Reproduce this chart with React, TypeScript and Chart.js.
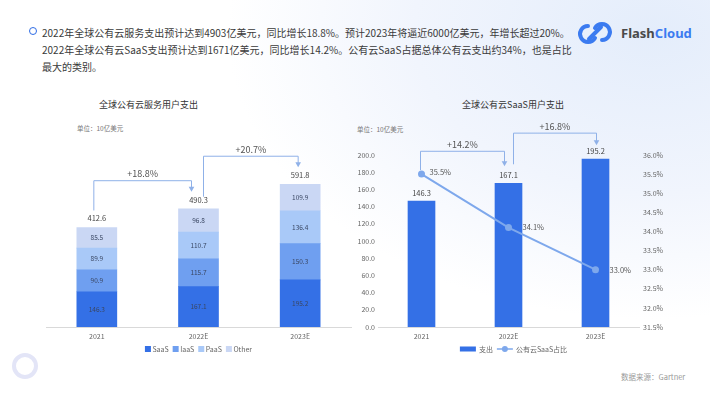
import React, { useEffect, useRef } from "react";
import { Chart, registerables } from "chart.js";
Chart.register(...registerables);

const FONT = '"Noto Sans CJK SC", "Noto Sans", sans-serif';

// ---- data ----
const years = ["2021", "2022E", "2023E"];
const saas = [146.3, 167.1, 195.2];
const iaas = [90.9, 115.7, 150.3];
const paas = [89.9, 110.7, 136.4];
const other = [85.5, 96.8, 109.9];
const totals = [412.6, 490.3, 591.8];
const totalGrowth = ["+18.8%", "+20.7%"];
const stackNames = ["SaaS", "IaaS", "PaaS", "Other"];

const saasSpend = [146.3, 167.1, 195.2];
const saasShare = [35.5, 34.1, 33.0];
const saasGrowth = ["+14.2%", "+16.8%"];
const spendTicks = [0, 20, 40, 60, 80, 100, 120, 140, 160, 180, 200];
const shareTicks = [31.5, 32, 32.5, 33, 33.5, 34, 34.5, 35, 35.5, 36];

// ---- style ----
const C = {
  saas: "#3470e6",
  iaas: "#6f9ff0",
  paas: "#a9c9f8",
  other: "#cad7f4",
  line: "#7ea8ec",
  bracket: "#8fb1e8",
  axis: "#d9d9d9",
  tick: "#666666",
};

function drawBracket(ctx: CanvasRenderingContext2D, x0: number, yStart: number, x1: number, yTip: number, yH: number, text: string) {
  ctx.save();
  ctx.strokeStyle = C.bracket;
  ctx.fillStyle = C.bracket;
  ctx.lineWidth = 1;
  ctx.beginPath();
  ctx.moveTo(x0, yStart);
  ctx.lineTo(x0, yH);
  ctx.lineTo(x1, yH);
  ctx.lineTo(x1, yTip - 4);
  ctx.stroke();
  ctx.beginPath();
  ctx.moveTo(x1 - 2.8, yTip - 5);
  ctx.lineTo(x1 + 2.8, yTip - 5);
  ctx.lineTo(x1, yTip);
  ctx.closePath();
  ctx.fill();
  ctx.font = `9px ${FONT}`;
  ctx.fillStyle = "#555";
  ctx.textAlign = "center";
  ctx.textBaseline = "middle";
  ctx.fillText(text, (x0 + x1) / 2, yH - 7);
  ctx.restore();
}

const leftPlugin = {
  id: "leftAnno",
  afterDraw(chart: any) {
    const ctx: CanvasRenderingContext2D = chart.ctx;
    const xS = chart.scales.x;
    const yS = chart.scales.y;
    ctx.save();
    ctx.textAlign = "center";
    ctx.textBaseline = "middle";
    ctx.font = `6.5px ${FONT}`;
    ctx.fillStyle = "#3a4763";
    chart.data.datasets.forEach((ds: any, di: number) => {
      const meta = chart.getDatasetMeta(di);
      meta.data.forEach((el: any, i: number) => {
        const p = el.getProps(["x", "y", "base"], true);
        ctx.fillText(Number(ds.data[i]).toFixed(1), p.x, (p.y + p.base) / 2);
      });
    });
    const cx = years.map((_, i) => xS.getPixelForValue(i));
    const labelY = totals.map((t) => yS.getPixelForValue(t) - 9);
    ctx.font = `7.5px ${FONT}`;
    ctx.fillStyle = "#444";
    totals.forEach((t, i) => ctx.fillText(t.toFixed(1), cx[i], labelY[i]));
    ctx.restore();

    // brackets
    {
      const x0 = cx[0] - 3, ys = labelY[0] - 8, x1 = cx[1] - 7, tip = labelY[1] - 8;
      drawBracket(ctx, x0, ys, x1, tip, Math.min(ys, tip) - 11, totalGrowth[0]);
    }
    {
      const x0 = cx[1] + 5, ys = labelY[1] - 3, x1 = cx[2] - 2, tip = labelY[2] - 8;
      drawBracket(ctx, x0, ys, x1, tip, Math.min(ys, tip) - 11, totalGrowth[1]);
    }

    // legend
    const colors = [C.saas, C.iaas, C.paas, C.other];
    ctx.save();
    ctx.font = `7px ${FONT}`;
    ctx.textBaseline = "middle";
    ctx.textAlign = "left";
    const box = 6, gapIn = 1.5, gapOut = 4;
    const widths = stackNames.map((n) => box + gapIn + ctx.measureText(n).width);
    const total = widths.reduce((a, b) => a + b, 0) + gapOut * (stackNames.length - 1);
    let x = (chart.chartArea.left + chart.chartArea.right) / 2 - total / 2;
    const y = 349;
    stackNames.forEach((n, i) => {
      ctx.fillStyle = colors[i];
      ctx.fillRect(x, y - box / 2, box, box);
      ctx.fillStyle = "#666";
      ctx.fillText(n, x + box + gapIn, y + 0.5);
      x += widths[i] + gapOut;
    });
    ctx.restore();
  },
};

const rightPlugin = {
  id: "rightAnno",
  afterDraw(chart: any) {
    const ctx: CanvasRenderingContext2D = chart.ctx;
    const xS = chart.scales.x;
    const yS = chart.scales.y;
    const cx = years.map((_, i) => xS.getPixelForValue(i));
    const barLabelY = saasSpend.map((v) => yS.getPixelForValue(v) - 8);
    const lineMeta = chart.getDatasetMeta(1);
    const pts = lineMeta.data.map((el: any) => el.getProps(["x", "y"], true));
    ctx.save();
    ctx.textAlign = "center";
    ctx.textBaseline = "middle";
    ctx.font = `7.5px ${FONT}`;
    ctx.fillStyle = "#444";
    saasSpend.forEach((v, i) => ctx.fillText(v.toFixed(1), cx[i], barLabelY[i]));
    ctx.textAlign = "left";
    ctx.fillStyle = "#555";
    saasShare.forEach((v, i) => {
      const off = i === 0 ? 8 : 14;
      ctx.fillText(v.toFixed(1) + "%", pts[i].x + off, pts[i].y - (i === 0 ? 2 : 0));
    });
    ctx.restore();

    {
      const x0 = pts[0].x - 1, ys = pts[0].y - 4, x1 = cx[1] - 4, tip = barLabelY[1] - 9;
      drawBracket(ctx, x0, ys, x1, tip, Math.min(ys, tip) - 15, saasGrowth[0]);
    }
    {
      const x0 = cx[1] + 5, ys = barLabelY[1] - 11, x1 = cx[2] + 1, tip = barLabelY[2] - 6;
      drawBracket(ctx, x0, ys, x1, tip, Math.min(ys, tip) - 12, saasGrowth[1]);
    }

    // legend
    ctx.save();
    ctx.font = `7px ${FONT}`;
    ctx.textBaseline = "middle";
    ctx.textAlign = "left";
    const names = chart.data.datasets.map((d: any) => d.label);
    const w0 = 16 + 3 + ctx.measureText(names[0]).width;
    const w1 = 16 + 3 + ctx.measureText(names[1]).width;
    const gap = 4;
    const tot = w0 + gap + w1;
    let x = (chart.chartArea.left + chart.chartArea.right) / 2 + 5 - tot / 2;
    const y = 349;
    ctx.fillStyle = C.saas;
    ctx.fillRect(x, y - 2.5, 16, 5);
    ctx.fillStyle = "#666";
    ctx.fillText(names[0], x + 19, y + 0.5);
    x += w0 + gap;
    ctx.strokeStyle = C.line;
    ctx.lineWidth = 1.5;
    ctx.beginPath();
    ctx.moveTo(x, y);
    ctx.lineTo(x + 16, y);
    ctx.stroke();
    ctx.fillStyle = C.line;
    ctx.beginPath();
    ctx.arc(x + 8, y, 3, 0, Math.PI * 2);
    ctx.fill();
    ctx.fillStyle = "#666";
    ctx.fillText(names[1], x + 19, y + 0.5);
    ctx.restore();
  },
};

export default function App() {
  const leftRef = useRef<HTMLCanvasElement>(null);
  const rightRef = useRef<HTMLCanvasElement>(null);

  useEffect(() => {
    document.body.style.margin = "0";
    const tickFont = { size: 7, family: FONT };
    const left = new Chart(leftRef.current!, {
      type: "bar",
      data: {
        labels: years,
        datasets: [
          { label: stackNames[0], data: saas, backgroundColor: C.saas, barThickness: 40 },
          { label: stackNames[1], data: iaas, backgroundColor: C.iaas, barThickness: 40 },
          { label: stackNames[2], data: paas, backgroundColor: C.paas, barThickness: 40 },
          { label: stackNames[3], data: other, backgroundColor: C.other, barThickness: 40 },
        ],
      },
      options: {
        responsive: false,
        animation: false,
        layout: { padding: { left: 46, right: 359, top: 134, bottom: 54 } },
        plugins: { legend: { display: false }, tooltip: { enabled: false } },
        scales: {
          x: {
            stacked: true,
            grid: { display: false, drawTicks: false },
            border: { color: C.axis },
            ticks: { font: tickFont, color: C.tick, padding: 5 },
            afterFit: (s: any) => { s.height = 18; },
          },
          y: { stacked: true, display: false, min: 0, max: 800 },
        },
      },
      plugins: [leftPlugin],
    } as any);

    const right = new Chart(rightRef.current!, {
      type: "bar",
      data: {
        labels: years,
        datasets: [
          { type: "bar", label: "支出", data: saasSpend, backgroundColor: C.saas, barThickness: 27, yAxisID: "y", order: 2 },
          {
            type: "line", label: "公有云SaaS占比", data: saasShare, borderColor: C.line, backgroundColor: C.line,
            borderWidth: 2, pointRadius: 3.5, pointBackgroundColor: C.line, pointBorderWidth: 0, yAxisID: "y1", order: 1,
          },
        ],
      },
      options: {
        responsive: false,
        animation: false,
        layout: { padding: { left: 348, right: 41, top: 155, bottom: 54 } },
        plugins: { legend: { display: false }, tooltip: { enabled: false } },
        scales: {
          x: {
            grid: { display: false, drawTicks: false },
            border: { color: C.axis },
            ticks: { font: tickFont, color: C.tick, padding: 5 },
            afterFit: (s: any) => { s.height = 18; },
          },
          y: {
            position: "left",
            min: spendTicks[0],
            max: spendTicks[spendTicks.length - 1],
            afterBuildTicks: (s: any) => { s.ticks = spendTicks.map((v) => ({ value: v })); },
            ticks: { font: tickFont, color: C.tick, padding: 3, callback: (v: any) => Number(v).toFixed(1) },
            grid: { display: false, drawTicks: false },
            border: { display: false },
            afterFit: (s: any) => { s.width = 30; },
          },
          y1: {
            position: "right",
            min: shareTicks[0],
            max: shareTicks[shareTicks.length - 1],
            afterBuildTicks: (s: any) => { s.ticks = shareTicks.map((v) => ({ value: v })); },
            ticks: { font: tickFont, color: C.tick, padding: 4, callback: (v: any) => Number(v).toFixed(1) + "%" },
            grid: { display: false, drawTicks: false },
            border: { display: false },
            afterFit: (s: any) => { s.width = 30; },
          },
        },
      },
      plugins: [rightPlugin],
    } as any);

    return () => {
      left.destroy();
      right.destroy();
    };
  }, []);

  const abs = (s: React.CSSProperties): React.CSSProperties => ({ position: "absolute", ...s });

  return (
    <div
      style={{
        position: "absolute", left: 0, top: 0, width: 710, height: 399, overflow: "hidden",
        fontFamily: FONT,
        background: "radial-gradient(ellipse 75% 90% at 92% 8%, #e4edfb 0%, #f1f5fd 45%, #ffffff 80%)",
      }}
    >
      <div style={abs({ left: 28.5, top: 26.5, width: 6, height: 6, borderRadius: "50%", border: "1.8px solid #2f6ce5" })} />
      <div style={abs({ left: 42, top: 24, width: 540, fontSize: 10, lineHeight: "17px", color: "#3a3a3a" })}>
        2022年全球公有云服务支出预计达到4903亿美元，同比增长18.8%。预计2023年将逼近6000亿美元，年增长超过20%。
        <br />
        2022年全球公有云SaaS支出预计达到1671亿美元，同比增长14.2%。公有云SaaS占据总体公有云支出约34%，也是占比
        <br />
        最大的类别。
      </div>

      <svg style={abs({ left: 575, top: 18, width: 40, height: 30 })} viewBox="0 0 40 30">
        <path d="M13 8 A8 8 0 1 0 20 20" fill="none" stroke="#3b7bf0" strokeWidth="4" strokeLinecap="round" />
        <path d="M14 21 L26 9" fill="none" stroke="#3b7bf0" strokeWidth="4" strokeLinecap="round" />
        <path d="M27 22 A8 8 0 1 0 20 10" fill="none" stroke="#3b7bf0" strokeWidth="4" strokeLinecap="round" />
      </svg>
      <div style={abs({ left: 621, top: 24, fontSize: 13, fontWeight: 700, lineHeight: "18px", fontFamily: '"Noto Sans", sans-serif' })}>
        <span style={{ color: "#4a4a4a" }}>Flash</span>
        <span style={{ color: "#3b7bf0" }}>Cloud</span>
      </div>

      <div style={abs({ left: 48, width: 201, top: 99, textAlign: "center", fontSize: 9, lineHeight: "12px", color: "#333" })}>
        全球公有云服务用户支出
      </div>
      <div style={abs({ left: 413, width: 200, top: 99, textAlign: "center", fontSize: 9, lineHeight: "12px", color: "#333" })}>
        全球公有云SaaS用户支出
      </div>
      <div style={abs({ left: 77, top: 124, fontSize: 6.5, lineHeight: "9px", color: "#777" })}>单位：10亿美元</div>
      <div style={abs({ left: 357, top: 125, fontSize: 6.5, lineHeight: "9px", color: "#777" })}>单位：10亿美元</div>

      <div style={abs({ left: 621, top: 372, fontSize: 7.5, lineHeight: "10px", color: "#9a9a9a" })}>数据来源：Gartner</div>
      <div style={abs({ left: 12, top: 353, width: 18, height: 18, borderRadius: "50%", border: "4px solid #e3e5f7" })} />

      <canvas ref={leftRef} width={710} height={399} style={abs({ left: 0, top: 0, width: 710, height: 399 })} />
      <canvas ref={rightRef} width={710} height={399} style={abs({ left: 0, top: 0, width: 710, height: 399 })} />
    </div>
  );
}
